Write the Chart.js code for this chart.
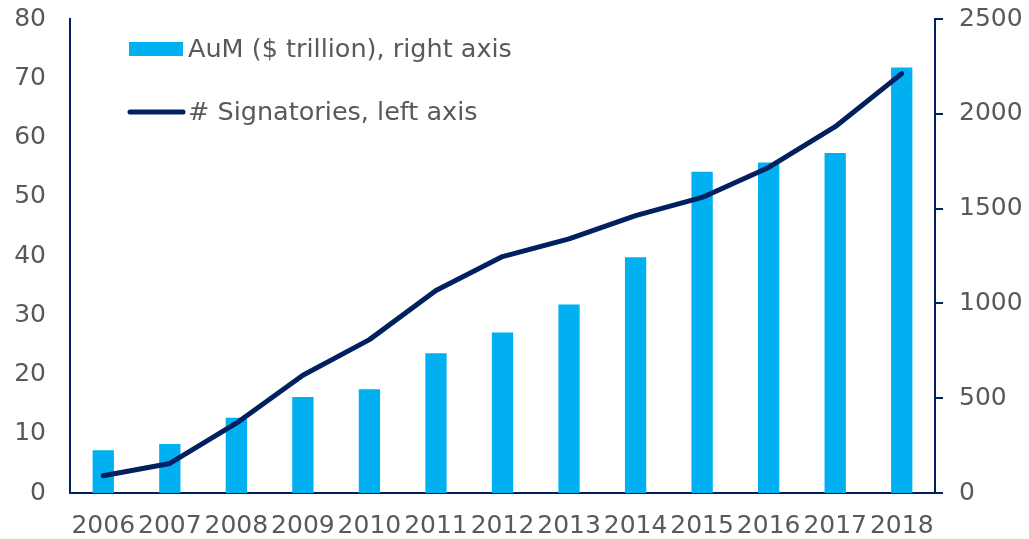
<!DOCTYPE html>
<html><head><meta charset="utf-8">
<script src="https://cdn.jsdelivr.net/npm/chart.js@4/dist/chart.umd.min.js"></script>
<style>html,body{margin:0;padding:0;background:#fff;}#wrap{width:1029px;height:539px;}</style>
</head><body><div id="wrap"><canvas id="c" width="1029" height="539"></canvas></div>
<script>
const years = ["2006","2007","2008","2009","2010","2011","2012","2013","2014","2015","2016","2017","2018"];
const aum = [7.2, 8.25, 12.7, 16.2, 17.5, 23.6, 27.1, 31.8, 39.8, 54.2, 55.8, 57.4, 71.8];
const signatories = [91, 156, 368, 621, 809, 1068, 1247, 1340, 1463, 1559, 1717, 1932, 2212];
const leftTicks = [0,10,20,30,40,50,60,70,80];
const rightTicks = [0,500,1000,1500,2000,2500];
const labelAum = "AuM ($ trillion), right axis";
const labelSig = "# Signatories, left axis";

const NAVY = '#002060', BLUE = '#00B0F0', GREY = '#595959';
const FONT = {family: 'DejaVu Sans', size: 25};

const legendPlugin = {
  id: 'customLegend',
  afterDraw(chart) {
    const ctx = chart.ctx;
    ctx.save();
    ctx.fillStyle = BLUE;
    ctx.fillRect(129, 42, 54, 14);
    ctx.strokeStyle = NAVY; ctx.lineWidth = 5; ctx.lineCap = 'round';
    ctx.beginPath(); ctx.moveTo(130, 112); ctx.lineTo(183, 112); ctx.stroke();
    ctx.fillStyle = GREY; ctx.font = '25.5px "DejaVu Sans"'; ctx.textBaseline = 'middle';
    ctx.fillText(labelAum, 188, 50);
    ctx.fillText(labelSig, 188, 113);
    ctx.restore();
  }
};

function vfit(w) {
  return function(s) { s.width = w; s.paddingTop = 0; s.paddingBottom = 0; };
}

new Chart(document.getElementById('c'), {
  data: {
    labels: years,
    datasets: [
      {type: 'line', label: labelSig, data: signatories, yAxisID: 'y1', borderColor: NAVY, borderWidth: 5,
       pointRadius: 0, tension: 0, borderCapStyle: 'round', borderJoinStyle: 'round', order: 0},
      {type: 'bar', label: labelAum, data: aum, yAxisID: 'y', backgroundColor: BLUE,
       barPercentage: 0.32, categoryPercentage: 1.0, order: 1}
    ]
  },
  options: {
    responsive: false, animation: false,
    layout: {padding: {top: 19, left: 0, right: 0, bottom: 0}},
    plugins: {legend: {display: false}, tooltip: {enabled: false}},
    scales: {
      x: {
        grid: {display: false, drawTicks: false},
        border: {display: true, color: NAVY, width: 2},
        ticks: {color: GREY, font: FONT, padding: 18, maxRotation: 0, autoSkip: false},
        afterFit(s) { s.height = 46; s.paddingLeft = 0; s.paddingRight = 0; }
      },
      y: {
        position: 'left', min: 0, max: 80,
        afterBuildTicks(s) { s.ticks = leftTicks.map(v => ({value: v})); },
        grid: {display: false, drawTicks: false},
        border: {display: true, color: NAVY, width: 2},
        ticks: {color: GREY, font: FONT, padding: 24, callback: v => String(v)},
        afterFit: vfit(70)
      },
      y1: {
        position: 'right', min: 0, max: 2500,
        afterBuildTicks(s) { s.ticks = rightTicks.map(v => ({value: v})); },
        grid: {display: true, drawOnChartArea: false, drawTicks: true, tickLength: 8, color: NAVY, lineWidth: 2},
        border: {display: true, color: NAVY, width: 2},
        ticks: {color: GREY, font: FONT, padding: 16, callback: v => String(v)},
        afterFit: vfit(94)
      }
    }
  },
  plugins: [legendPlugin]
});
</script></body></html>
